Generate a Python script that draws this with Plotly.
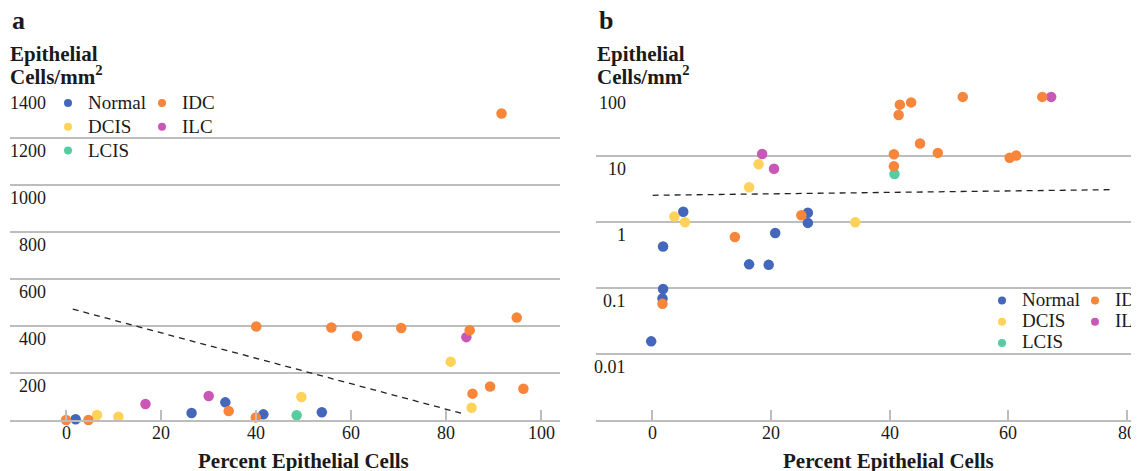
import numpy as np
import plotly.graph_objects as go

W, H = 1139, 471
# the page body adds an 8px margin around the figure; positions below are
# given in window pixels and shifted by this offset
OX, OY = 8, 8

# ---------------- data: panel a (linear) ----------------
normal_a_x = [2, 26.4, 33.5, 41.5, 53.8]
normal_a_y = [3, 30, 75, 24, 33]
dcis_a_x = [6.5, 11, 49.5, 80.9, 85.3]
dcis_a_y = [21, 14, 98, 248, 52]
lcis_a_x = [48.5]
lcis_a_y = [20]
idc_a_x = [0, 4.7, 34.2, 39.9, 40, 55.8, 61.2, 70.5, 84.9, 85.5, 89.2, 91.6, 94.8, 96.2]
idc_a_y = [0, 0, 38, 11, 397, 393, 357, 391, 381, 112, 142, 1302, 435, 133]
ilc_a_x = [16.7, 30, 84.2]
ilc_a_y = [68, 102, 352]
trend_a_x = [1.4, 84]
trend_a_y = [471, 24]

# ---------------- data: panel b (log) ----------------
normal_b_x = [5.2, 26.2, 26.2, 20.7, 1.8, 16.3, 19.6, 1.8, 1.7, -0.2]
normal_b_y = [1.45, 1.40, 0.98, 0.69, 0.43, 0.23, 0.226, 0.097, 0.07, 0.0156]
dcis_b_x = [17.9, 16.3, 3.7, 5.5, 34.2]
dcis_b_y = [7.6, 3.4, 1.22, 1.0, 1.0]
lcis_b_x = [40.8]
lcis_b_y = [5.4]
idc_b_x = [52.3, 65.7, 41.7, 43.6, 41.5, 45.1, 40.7, 48.1, 60.2, 61.3, 40.7, 25.1, 13.9, 1.7]
idc_b_y = [80, 80, 61, 66, 42.6, 15.7, 10.8, 11.3, 9.5, 10.3, 7.1, 1.28, 0.6, 0.058]
ilc_b_x = [67.2, 18.5, 20.5]
ilc_b_y = [80, 10.9, 6.5]
trend_b_x = [0.05, 77.8]
trend_b_y = [2.57, 3.13]

# ---------------- ticks ----------------
xticks_a = [0, 20, 40, 60, 80, 100]
yticks_a = [200, 400, 600, 800, 1000, 1200, 1400]
xticks_b = [0, 20, 40, 60, 80]
yticks_b = [100, 10, 1, 0.1, 0.01]
yticks_b_labels = ["100", "10", "1", "0.1", "0.01"]

categories = ["Normal", "DCIS", "LCIS", "IDC", "ILC"]
colors = {"Normal": "#4466BB", "DCIS": "#FFD25A", "LCIS": "#55CDA0",
          "IDC": "#F7853A", "ILC": "#C957B8"}

FONT = "Liberation Serif"
TXT = "#1a1a1a"
GRID = "#bdbdbd"
MS = 10.5


def fx(px):
    return (px - OX) / W


def fy(py):
    return 1 - (py - OY) / H


fig = go.Figure()

data_a = {"Normal": (normal_a_x, normal_a_y), "DCIS": (dcis_a_x, dcis_a_y),
          "LCIS": (lcis_a_x, lcis_a_y), "IDC": (idc_a_x, idc_a_y),
          "ILC": (ilc_a_x, ilc_a_y)}
data_b = {"Normal": (normal_b_x, normal_b_y), "DCIS": (dcis_b_x, dcis_b_y),
          "LCIS": (lcis_b_x, lcis_b_y), "IDC": (idc_b_x, idc_b_y),
          "ILC": (ilc_b_x, ilc_b_y)}

# trend lines
fig.add_trace(go.Scatter(x=trend_a_x, y=trend_a_y, mode="lines", xaxis="x", yaxis="y",
                         line=dict(color="#222", width=1.3, dash="6px,5px"),
                         showlegend=False, hoverinfo="skip"))
fig.add_trace(go.Scatter(x=trend_b_x, y=trend_b_y, mode="lines", xaxis="x2", yaxis="y2",
                         line=dict(color="#222", width=1.3, dash="6px,5px"),
                         showlegend=False, hoverinfo="skip"))

draw_order = ["Normal", "DCIS", "LCIS", "ILC", "IDC"]
for cat in draw_order:
    x, y = data_a[cat]
    fig.add_trace(go.Scatter(x=x, y=y, mode="markers", xaxis="x", yaxis="y", name=cat,
                             marker=dict(color=colors[cat], size=MS, line=dict(width=0)),
                             cliponaxis=False, showlegend=False))
    x, y = data_b[cat]
    fig.add_trace(go.Scatter(x=x, y=y, mode="markers", xaxis="x2", yaxis="y2", name=cat,
                             marker=dict(color=colors[cat], size=MS, line=dict(width=0)),
                             cliponaxis=False, showlegend=False))

# legend entries
legend_map_a = {"Normal": "legend", "DCIS": "legend", "LCIS": "legend",
                "IDC": "legend2", "ILC": "legend2"}
legend_map_b = {"Normal": "legend3", "DCIS": "legend3", "LCIS": "legend3",
                "IDC": "legend4", "ILC": "legend4"}
for cat in categories:
    label = '<span style="font-size:19px">%s</span>' % cat
    fig.add_trace(go.Scatter(x=[None], y=[None], mode="markers", xaxis="x", yaxis="y",
                             name=label, legend=legend_map_a[cat],
                             marker=dict(color=colors[cat], size=8)))
    fig.add_trace(go.Scatter(x=[None], y=[None], mode="markers", xaxis="x2", yaxis="y2",
                             name=label, legend=legend_map_b[cat],
                             marker=dict(color=colors[cat], size=8)))

ydom = [fy(420), fy(90.5)]

axis_common = dict(showgrid=False, zeroline=False, showline=True, linecolor=GRID,
                   linewidth=1.5, ticks="inside", ticklen=10, tickwidth=1.5,
                   tickcolor=GRID, showticklabels=False)
yaxis_common = dict(showgrid=True, gridcolor=GRID, gridwidth=1.5, zeroline=False,
                    showline=False, ticks="", showticklabels=False)

leg_common = dict(bgcolor="rgba(0,0,0,0)", borderwidth=0, xref="container",
                  yref="container", xanchor="left", yanchor="top",
                  orientation="v", tracegroupgap=0,
                  font=dict(family=FONT, size=16, color=TXT))
leg_small = {**leg_common, "font": dict(family=FONT, size=14, color=TXT)}

fig.update_layout(
    width=W, height=H,
    margin=dict(l=0, r=0, t=0, b=0, autoexpand=False),
    paper_bgcolor="white", plot_bgcolor="white",
    font=dict(family=FONT, color=TXT),
    showlegend=True,
    xaxis=dict(domain=[fx(10), fx(560)], range=[-11.8, 103.9], tickvals=xticks_a,
               anchor="y", **axis_common),
    yaxis=dict(domain=ydom, range=[0, 1400], tickvals=[0] + yticks_a, anchor="x",
               **yaxis_common),
    xaxis2=dict(domain=[fx(596), fx(1139)], range=[-9.5, 82], tickvals=xticks_b,
                anchor="y2", **axis_common),
    yaxis2=dict(domain=ydom, type="log", range=[-3, 2],
                tickvals=[0.001] + yticks_b, anchor="x2", **yaxis_common),
    legend=dict(x=fx(48), y=fy(86), **leg_common),
    legend2=dict(x=fx(142), y=fy(86), **leg_common),
    legend3=dict(x=fx(982), y=fy(285), **leg_small),
    legend4=dict(x=fx(1075), y=fy(285), **leg_small),
)

tick_font = dict(family=FONT, size=18, color=TXT)
annotations = []
# y tick labels (panel a)
for v in yticks_a:
    annotations.append(dict(x=fx(48), xref="paper", y=v, yref="y", text=str(v),
                            showarrow=False, xanchor="right", yanchor="middle", yshift=-13,
                            font=tick_font))
# y tick labels (panel b)
for v, lab in zip(yticks_b, yticks_b_labels):
    annotations.append(dict(x=fx(628), xref="paper", y=np.log10(v), yref="y2", text=lab,
                            showarrow=False, xanchor="right", yanchor="middle", yshift=-13,
                            font=tick_font))
# x tick labels
for v in xticks_a:
    annotations.append(dict(x=v, xref="x", y=fy(433), yref="paper", text=str(v),
                            showarrow=False, xanchor="center", yanchor="middle",
                            font=tick_font))
for v in xticks_b:
    annotations.append(dict(x=v, xref="x2", y=fy(433), yref="paper", text=str(v),
                            showarrow=False, xanchor="center", yanchor="middle",
                            font=tick_font))
# panel letters, y titles and x titles
for px, letter, title_x in [(10, "a", 303), (597, "b", 888)]:
    annotations.append(dict(x=fx(px), y=fy(21), xref="paper", yref="paper",
                            text="<b>%s</b>" % letter, showarrow=False,
                            xanchor="left", yanchor="middle",
                            font=dict(family=FONT, size=26, color=TXT)))
    annotations.append(dict(x=fx(px), y=fy(54), xref="paper", yref="paper",
                            text="<b>Epithelial</b>", showarrow=False,
                            xanchor="left", yanchor="middle", xshift=-2,
                            font=dict(family=FONT, size=21, color=TXT)))
    annotations.append(dict(x=fx(px), y=fy(76), xref="paper", yref="paper",
                            text="<b>Cells/mm<sup>2</sup></b>", showarrow=False,
                            xanchor="left", yanchor="middle", xshift=-2,
                            font=dict(family=FONT, size=21, color=TXT)))
    annotations.append(dict(x=fx(title_x), y=fy(461), xref="paper", yref="paper",
                            text="<b>Percent Epithelial Cells</b>", showarrow=False,
                            xanchor="center", yanchor="middle",
                            font=dict(family=FONT, size=21, color=TXT)))
fig.update_layout(annotations=annotations)

fig.write_html("out.html")
